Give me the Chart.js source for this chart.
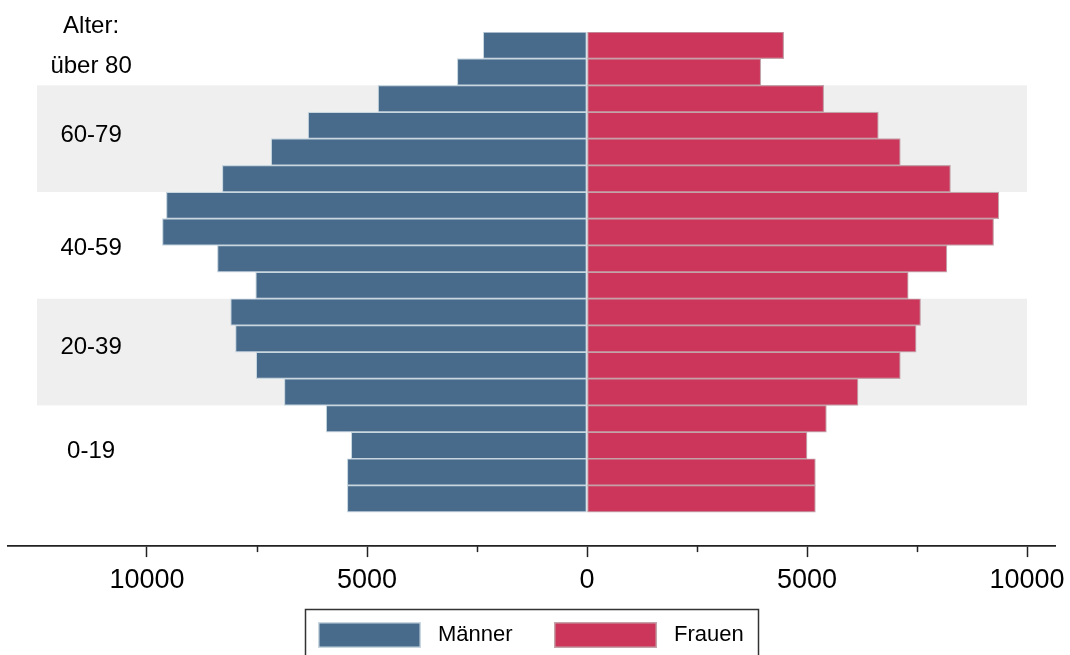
<!DOCTYPE html>
<html lang="de">
<head>
<meta charset="UTF-8">
<title>Alterspyramide</title>
<style>
  html, body { margin: 0; padding: 0; overflow: hidden; background: #fff; }
  #wrap { width: 1070px; height: 655px; }
</style>
</head>
<body>
<div id="wrap"><canvas id="pyramide"></canvas></div>
<script src="https://cdn.jsdelivr.net/npm/chart.js"></script>
<script>
// Altersklassen in 5-Jahres-Schritten, oben die aeltesten
const altersklassen = ['85+', '80-84', '75-79', '70-74', '65-69', '60-64', '55-59', '50-54', '45-49',
                       '40-44', '35-39', '30-34', '25-29', '20-24', '15-19', '10-14', '5-9', '0-4'];
const maenner = [2360, 2950, 4750, 6340, 7180, 8290, 9560, 9650, 8400, 7530, 8100, 7990, 7520, 6880, 5930, 5360, 5450, 5450];
const frauen  = [4470, 3950, 5380, 6620, 7120, 8260, 9360, 9240, 8180, 7300, 7580, 7480, 7120, 6160, 5440, 5000, 5190, 5190];
const serien = ['Männer', 'Frauen'];
const gruppen = ['Alter:', 'über 80', '60-79', '40-59', '20-39', '0-19'];
const xTicks = [-10000, -5000, 0, 5000, 10000];
const xMinorTicks = [-7500, -2500, 2500, 7500];

// Lage der Gruppenbeschriftung und der grauen Baender (in Einheiten der Skalen)
const gruppenY = [-0.725, 0.775, 3.36, 7.6, 11.31, 15.21];
const gruppenX = -11270;
const baender = [[1.5, 5.5], [9.5, 13.5]];
const bandX = [-12500, 10000];

const blau = '#486a8b';
const rot = '#cc365a';
const schrift = '"Liberation Sans", Arial, sans-serif';

const hintergrund = {
    id: 'hintergrund',
    beforeDatasetsDraw(chart) {
        const { ctx, scales: { x, y } } = chart;
        ctx.save();
        ctx.fillStyle = '#efefef';
        baender.forEach(b => {
            const top = y.getPixelForValue(b[0]);
            const bottom = y.getPixelForValue(b[1]);
            const left = x.getPixelForValue(bandX[0]);
            const right = x.getPixelForValue(bandX[1]);
            ctx.fillRect(left, top, right - left, bottom - top);
        });
        ctx.restore();
    }
};

const beschriftung = {
    id: 'beschriftung',
    afterDraw(chart) {
        const { ctx, scales: { x, y } } = chart;
        ctx.save();
        // Gruppen links
        ctx.font = '24px ' + schrift;
        ctx.fillStyle = '#000';
        ctx.textAlign = 'center';
        ctx.textBaseline = 'middle';
        gruppen.forEach((g, i) => {
            ctx.fillText(g, x.getPixelForValue(gruppenX), y.getPixelForValue(gruppenY[i]));
        });

        // kleine Zwischenstriche an der Achse
        ctx.strokeStyle = '#222';
        ctx.lineWidth = 1.5;
        const yAxis = chart.chartArea.bottom;
        xMinorTicks.forEach(v => {
            const px = Math.round(x.getPixelForValue(v)) + 0.5;
            ctx.beginPath();
            ctx.moveTo(px, yAxis);
            ctx.lineTo(px, yAxis + 6);
            ctx.stroke();
        });

        // Legende mit Rahmen
        ctx.lineWidth = 1.5;
        ctx.strokeStyle = '#333';
        ctx.strokeRect(305.5, 609.5, 453, 60);
        const farben = [[blau, '#c8d6e0'], [rot, '#c4a2aa']];
        const startX = [318, 554];
        ctx.font = '22px ' + schrift;
        ctx.textAlign = 'left';
        serien.forEach((s, i) => {
            ctx.fillStyle = farben[i][1];
            ctx.fillRect(startX[i], 622, 103, 26);
            ctx.fillStyle = farben[i][0];
            ctx.fillRect(startX[i] + 1.5, 623.5, 100, 23);
            ctx.fillStyle = '#000';
            ctx.fillText(s, startX[i] + 120, 635);
        });
        ctx.restore();
    }
};

new Chart(document.getElementById('pyramide'), {
    type: 'bar',
    data: {
        datasets: [{
            label: serien[0],
            data: maenner.map((v, i) => ({ x: -v, y: i })),
            backgroundColor: blau,
            borderColor: '#c8d6e0',
            borderWidth: 1.2,
            borderSkipped: false
        }, {
            label: serien[1],
            data: frauen.map((v, i) => ({ x: v, y: i })),
            backgroundColor: rot,
            borderColor: '#c4a2aa',
            borderWidth: 1.2,
            borderSkipped: false
        }]
    },
    options: {
        indexAxis: 'y',
        responsive: true,
        maintainAspectRatio: false,
        animation: false,
        layout: { padding: { top: 32, left: 8, right: 15, bottom: 50.5 } },
        plugins: {
            legend: { display: false },
            tooltip: {
                callbacks: {
                    title: items => altersklassen[items[0].raw.y],
                    label: item => item.dataset.label + ': ' + Math.abs(item.raw.x)
                }
            }
        },
        datasets: { bar: { barPercentage: 1, categoryPercentage: 1 } },
        scales: {
            x: {
                type: 'linear',
                stacked: true,
                min: -13159,
                max: 10636,
                afterBuildTicks: s => { s.ticks = xTicks.map(v => ({ value: v })); },
                afterFit: s => { s.paddingLeft = 0; s.paddingRight = 0; },
                grid: { drawOnChartArea: false, drawTicks: true, tickLength: 11, tickColor: '#222', tickWidth: 1.5 },
                border: { display: true, color: '#222', width: 1.7 },
                ticks: {
                    padding: 7.5,
                    color: '#000',
                    font: { family: schrift, size: 27 },
                    maxRotation: 0,
                    callback: v => String(Math.abs(v))
                }
            },
            y: {
                type: 'linear',
                stacked: true,
                reverse: true,
                offset: false,
                min: -0.5,
                max: 18.775,
                display: false,
                afterBuildTicks: s => { s.ticks = altersklassen.map((_, i) => ({ value: i })); }
            }
        }
    },
    plugins: [hintergrund, beschriftung]
});
</script>
</body>
</html>
